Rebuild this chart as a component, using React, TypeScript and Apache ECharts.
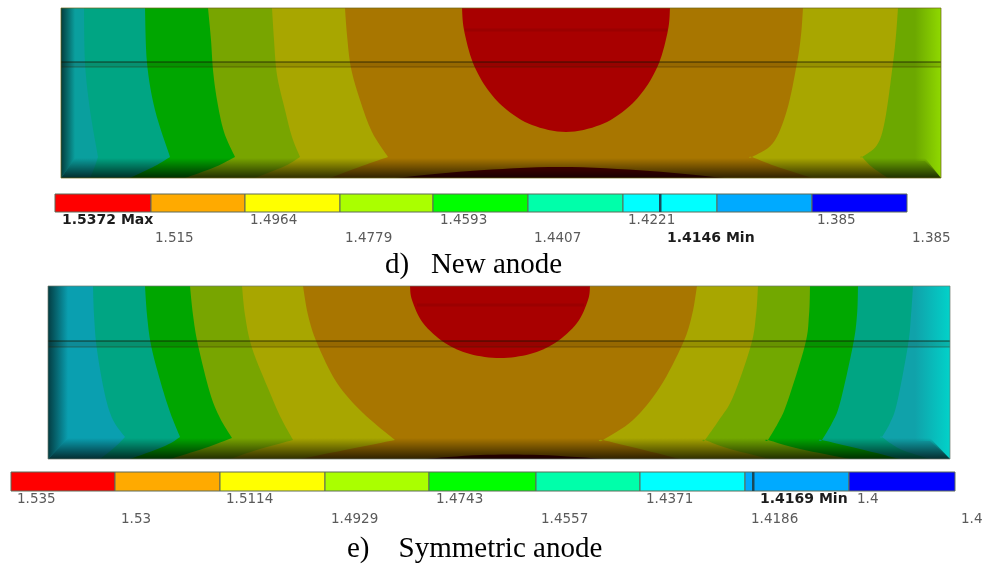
import React, { useEffect, useRef } from "react";
import * as echarts from "echarts";

type Pt = [number, number];

// Legend values
const legendColors = ["#ff0000", "#ffaa00", "#ffff00", "#aaff00", "#00ff00", "#00ffaa", "#00ffff", "#00aaff", "#0000ff"];
const dLabels = ["1.5372 Max", "1.515", "1.4964", "1.4779", "1.4593", "1.4407", "1.4221", "1.4146 Min", "1.385", "1.385"];
const dLabelX = [62, 155, 250, 345, 440, 534, 628, 667, 817, 912];
const eLabels = ["1.535", "1.53", "1.5114", "1.4929", "1.4743", "1.4557", "1.4371", "1.4186", "1.4169 Min", "1.4", "1.4"];
const eLabelX = [17, 121, 226, 331, 436, 541, 646, 751, 760, 857, 961];
const eLabelRow = [0, 1, 0, 1, 0, 1, 0, 1, 0, 0, 1];
const dLabelRow = [0, 1, 0, 1, 0, 1, 0, 1, 0, 1];
const dStops = [55, 151, 245, 340, 433, 528, 623, 717, 812, 907];
const eStops = [11, 115, 220, 325, 429, 536, 640, 745, 849, 955];
const dMinMarker = 660;
const eMinMarker = 753;
const captionD = "d)   New anode";
const captionE = "e)    Symmetric anode";

// Contours of panel d
const dContours: Pt[][] = [
  [[84, 8], [85, 63], [90, 110], [98, 157], [98, 157], [95, 166], [90, 178]],
  [[145, 8], [147, 63], [155, 110], [170, 157], [170, 157], [155, 166], [130, 178]],
  [[208, 8], [211, 40], [213, 70], [217, 100], [224, 132], [235, 157], [235, 157], [215, 167], [185, 178]],
  [[272, 8], [274, 40], [277, 75], [285, 110], [292, 137], [300, 157], [300, 157], [285, 166], [255, 178]],
  [[345, 8], [347, 35], [351, 68], [360, 100], [372, 132], [388, 157], [388, 157], [362, 166], [330, 178]],
  [[803, 8], [801, 35], [797, 63], [787, 110], [773, 143], [752, 157], [752, 157], [775, 166], [812, 178]],
  [[898, 8], [896, 35], [893, 63], [885, 120], [877, 145], [862, 157], [862, 157], [872, 167], [888, 178]],
];
const dContourColors = ["#00a583", "#00a600", "#78a500", "#a8a600", "#a87600", "#a8a600", "#6ca800"];
const dRed: Pt[] = [[462, 8], [464, 30], [473, 63], [488, 90], [507, 110], [532, 125], [566, 132], [600, 125], [625, 110], [644, 90], [659, 63], [668, 30], [670, 8]];
const dDarkBase: Pt[] = [[395, 178], [470, 171], [560, 167], [650, 171], [725, 178]];

// Contours of panel e
const eContours: Pt[][] = [
  [[93, 286], [94, 315], [97, 350], [105, 395], [113, 420], [125, 437], [125, 437], [115, 447], [100, 459]],
  [[145, 286], [147, 315], [151, 345], [160, 380], [170, 412], [180, 437], [180, 437], [165, 446], [130, 459]],
  [[190, 286], [193, 315], [198, 345], [210, 393], [220, 418], [232, 438], [232, 438], [205, 448], [170, 459]],
  [[242, 286], [245, 315], [252, 348], [270, 393], [281, 418], [293, 440], [293, 440], [260, 449], [230, 459]],
  [[303, 286], [308, 315], [317, 343], [337, 383], [363, 413], [395, 440], [395, 440], [350, 449], [300, 459]],
  [[697, 286], [692, 315], [683, 343], [660, 387], [633, 420], [603, 440], [603, 440], [640, 449], [680, 459]],
  [[758, 286], [756, 315], [751, 345], [733, 397], [719, 420], [705, 440], [705, 440], [730, 449], [770, 459]],
  [[810, 286], [809, 315], [805, 345], [787, 403], [778, 423], [768, 440], [768, 440], [800, 449], [850, 459]],
  [[858, 286], [857, 315], [853, 345], [840, 403], [832, 423], [822, 440], [822, 440], [860, 449], [900, 459]],
  [[913, 286], [911, 315], [908, 345], [897, 403], [890, 423], [882, 437], [882, 437], [900, 449], [930, 459]],
];
const eContourColors = ["#00a583", "#00a600", "#78a500", "#a8a600", "#a87600", "#a8a600", "#72a800", "#00a800", "#00a583", "#10a2aa"];
const eRed: Pt[] = [[410, 286], [412, 300], [423, 323], [445, 343], [470, 354], [500, 358], [530, 354], [555, 343], [577, 323], [588, 300], [590, 286]];
const eDarkBase: Pt[] = [[425, 459], [480, 455], [540, 455], [605, 459]];

const spline = (pts: Pt[]): number[][] => {
  const out: number[][] = [];
  for (let i = 0; i < pts.length - 1; i++) {
    const p0 = pts[Math.max(i - 1, 0)], p1 = pts[i], p2 = pts[i + 1], p3 = pts[Math.min(i + 2, pts.length - 1)];
    for (let k = 0; k < 8; k++) {
      const t = k / 8, t2 = t * t, t3 = t2 * t;
      const f = (a: number, b: number, c: number, d: number) =>
        0.5 * (2 * b + (c - a) * t + (2 * a - 5 * b + 4 * c - d) * t2 + (3 * b - a - 3 * c + d) * t3);
      out.push([f(p0[0], p1[0], p2[0], p3[0]), f(p0[1], p1[1], p2[1], p3[1])]);
    }
  }
  out.push(pts[pts.length - 1]);
  return out;
};

type Panel = {
  name: string; left: number; right: number; top: number; bottom: number;
  bevelInnerLeft: number; bevelInnerRight: number; bevelTop: number;
  base: string; contours: Pt[][]; colors: string[]; red: Pt[]; dark: Pt[];
  line1: number; line2: number; edge: string; edgeFade: string; edgeStart: number; border: string;
  streak: number[];
};
const panels: Panel[] = [
  { name: "d", left: 61, right: 941, top: 8, bottom: 178, bevelInnerLeft: 75, bevelInnerRight: 925, bevelTop: 161,
    base: "#0a9f9e", contours: dContours, colors: dContourColors, red: dRed, dark: dDarkBase, line1: 62, line2: 67,
    edge: "rgba(150,225,0,0.85)", edgeFade: "rgba(150,225,0,0)", edgeStart: 915, border: "rgba(110,100,20,0.7)", streak: [465, 667, 30] },
  { name: "e", left: 48, right: 950, top: 286, bottom: 459, bevelInnerLeft: 68, bevelInnerRight: 930, bevelTop: 441,
    base: "#0a9fb0", contours: eContours, colors: eContourColors, red: eRed, dark: eDarkBase, line1: 341, line2: 347,
    edge: "rgba(0,215,205,0.9)", edgeFade: "rgba(0,215,205,0)", edgeStart: 915, border: "rgba(110,120,110,0.7)", streak: [417, 584, 305] },
];

const grad = (x2: number, y2: number, c1: string, c2: string) =>
  new (echarts.graphic as any).LinearGradient(0, 0, x2, y2, [{ offset: 0, color: c1 }, { offset: 1, color: c2 }]);

const panelSeries = (p: Panel) => ({
  type: "custom", coordinateSystem: "cartesian2d", silent: true, clip: false,
  data: [[p.left, p.top]],
  renderItem: (_: any, api: any) => {
    const c = (pt: number[]) => api.coord(pt);
    const poly = (pts: number[][], fill: any) => ({ type: "polygon", shape: { points: pts.map(c) }, style: { fill } });
    const seg = (a: number[], b: number[], stroke: string, w: number) => {
      const s = c(a), e = c(b);
      return { type: "line", shape: { x1: s[0], y1: s[1], x2: e[0], y2: e[1] }, style: { stroke, lineWidth: w } };
    };
    const kids: any[] = [];
    const { left: L, right: R, top: T, bottom: B } = p;
    kids.push(poly([[L, T], [R, T], [R, B], [L, B]], p.base));
    p.contours.forEach((b, i) => kids.push(poly([...spline(b), [R, B], [R, T]], p.colors[i])));
    kids.push(poly(spline(p.red), "#a80000"));
    kids.push(seg([p.streak[0], p.streak[2]], [p.streak[1], p.streak[2]], "rgba(110,0,0,0.22)", 3));
    // right bright edge
    kids.push(poly([[p.edgeStart, T], [R, T], [R, B], [p.bevelInnerRight, p.bevelTop], [p.edgeStart, p.bevelTop]], grad(1, 0, p.edgeFade, p.edge)));
    // dark band round the lines
    kids.push(poly([[L, p.line1], [R, p.line1], [R, p.line2], [L, p.line2]], "rgba(40,20,0,0.14)"));
    // bottom bevel
    kids.push(poly(spline(p.dark), "#5a0000"));
    kids.push(poly([[L, B], [p.bevelInnerLeft, p.bevelTop - 3], [p.bevelInnerRight, p.bevelTop - 3], [R, B]],
      grad(0, 1, "rgba(0,0,0,0)", "rgba(0,0,0,0.72)")));
    // left bevel
    kids.push(poly([[L, T], [p.bevelInnerLeft, T], [p.bevelInnerLeft, p.bevelTop - 3], [L, B]], grad(1, 0, "rgba(0,15,15,0.68)", "rgba(0,15,15,0)")));
    kids.push(seg([L, p.line1], [R, p.line1], "rgba(20,20,0,0.75)", 1));
    kids.push(seg([L, p.line2], [R, p.line2], "rgba(50,30,0,0.4)", 1));
    kids.push({ type: "polygon", shape: { points: [[L, T], [R, T], [R, B], [L, B]].map(c) }, style: { fill: "none", stroke: p.border, lineWidth: 1 } });
    return { type: "group", children: kids };
  },
});

const barSeries = (stops: number[], top: number, bottom: number, marker: number) => ({
  type: "custom", coordinateSystem: "cartesian2d", silent: true, clip: false,
  data: legendColors.map((_, i) => [stops[i], top]),
  renderItem: (params: any, api: any) => {
    const i = params.dataIndex;
    const a = api.coord([stops[i], top]);
    const b = api.coord([stops[i + 1], bottom]);
    const kids: any[] = [{
      type: "rect", shape: { x: a[0], y: a[1], width: b[0] - a[0], height: b[1] - a[1] },
      style: { fill: legendColors[i], stroke: "#5c6a58", lineWidth: 1 },
    }];
    if (marker >= stops[i] && marker < stops[i + 1]) {
      const m = api.coord([marker, top]);
      kids.push({ type: "rect", shape: { x: m[0] - 1, y: a[1], width: 2.5, height: b[1] - a[1] }, style: { fill: "#1a4a5a" } });
    }
    return { type: "group", children: kids };
  },
});

const labelSeries = (labels: string[], xs: number[], rows: number[], y0: number, y1: number) => ({
  type: "custom", coordinateSystem: "cartesian2d", silent: true, clip: false,
  data: labels.map((_, i) => [xs[i], rows[i] ? y1 : y0]),
  renderItem: (params: any, api: any) => {
    const i = params.dataIndex;
    const bold = /M(ax|in)/.test(labels[i]);
    const pt = api.coord([xs[i], rows[i] ? y1 : y0]);
    return {
      type: "text", x: pt[0], y: pt[1],
      style: {
        text: labels[i], fill: bold ? "#1c1c1c" : "#5a5a5a", align: "left", verticalAlign: "middle",
        font: `${bold ? "bold 14px" : "13.5px"} "DejaVu Sans"`,
      },
    };
  },
});

const captionSeries = (text: string, x: number, y: number) => ({
  type: "custom", coordinateSystem: "cartesian2d", silent: true, clip: false,
  data: [[x, y]],
  renderItem: (_: any, api: any) => {
    const pt = api.coord([x, y]);
    return {
      type: "text", x: pt[0], y: pt[1],
      style: { text, fill: "#000", align: "left", verticalAlign: "middle", font: '29px "Liberation Serif"' },
    };
  },
});

export default function App() {
  const ref = useRef<HTMLDivElement>(null);
  useEffect(() => {
    const chart = echarts.init(ref.current!, undefined, { renderer: "svg" });
    chart.setOption({
      animation: false,
      tooltip: { show: false },
      grid: { left: 0, top: 0, right: 0, bottom: 0 },
      xAxis: { type: "value", min: 0, max: 985, show: false },
      yAxis: { type: "value", min: 0, max: 566, inverse: true, show: false },
      series: [
        panelSeries(panels[0]),
        panelSeries(panels[1]),
        barSeries(dStops, 194, 212, dMinMarker),
        barSeries(eStops, 472, 491, eMinMarker),
        labelSeries(dLabels, dLabelX, dLabelRow, 219, 237),
        labelSeries(eLabels, eLabelX, eLabelRow, 498, 518),
        captionSeries(captionD, 385, 263),
        captionSeries(captionE, 347, 547),
      ],
    });
    return () => chart.dispose();
  }, []);
  return (
    <div ref={ref} style={{ position: "absolute", left: 0, top: 0, width: 985, height: 566, filter: "blur(0.7px)" }} />
  );
}
